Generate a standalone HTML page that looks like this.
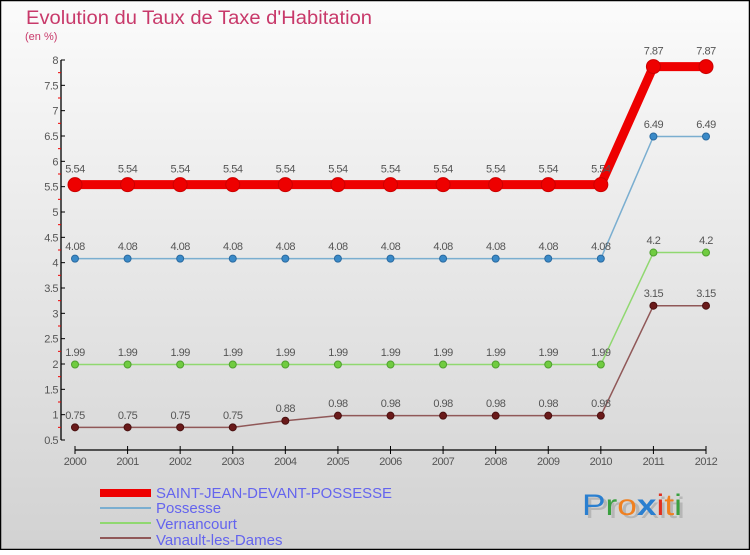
<!DOCTYPE html>
<html><head><meta charset="utf-8"><style>
html,body{margin:0;padding:0;}
body{width:750px;height:550px;overflow:hidden;font-family:"Liberation Sans",sans-serif;}
</style></head><body>
<svg id="chart" width="750" height="550" xmlns="http://www.w3.org/2000/svg">
<defs>
<linearGradient id="bg" x1="0" y1="0" x2="0" y2="1">
<stop offset="0" stop-color="#fbfbfb"/><stop offset="1" stop-color="#d2d2d2"/>
</linearGradient>
</defs>
<rect x="0.5" y="0.5" width="749" height="549" fill="url(#bg)" stroke="#000" stroke-width="1.5"/>
<text x="26" y="24" font-size="19" fill="#c8396a" textLength="346" lengthAdjust="spacingAndGlyphs">Evolution du Taux de Taxe d'Habitation</text>
<text x="25" y="40" font-size="11" fill="#c8396a">(en %)</text>
<g id="axes"></g>
<g id="series"></g>
<g font-size="15" fill="#6464ee">
<rect x="100" y="489" width="51" height="8" fill="#ee0000"/>
<text x="156" y="498" textLength="236" lengthAdjust="spacingAndGlyphs">SAINT-JEAN-DEVANT-POSSESSE</text>
<rect x="100" y="507" width="51" height="2" fill="#7aaed0"/>
<text x="156" y="513">Possesse</text>
<rect x="100" y="522" width="51" height="2" fill="#90d870"/>
<text x="156" y="529">Vernancourt</text>
<rect x="100" y="537" width="51" height="2" fill="#905858"/>
<text x="156" y="545">Vanault-les-Dames</text>
</g>
<g font-size="30">
<text x="585" y="518" fill="#999" opacity="0.5" textLength="100" lengthAdjust="spacingAndGlyphs">Proxiti</text>
<text x="582" y="515" textLength="100" lengthAdjust="spacingAndGlyphs"><tspan fill="#2a7fd0">P</tspan><tspan fill="#3aa040">r</tspan><tspan fill="#f08020">o</tspan><tspan fill="#2a7fd0" font-weight="bold">x</tspan><tspan fill="#e03020">i</tspan><tspan fill="#f08020">t</tspan><tspan fill="#3aa040">i</tspan></text>
</g>
</svg>
<script>
const years = ["2000","2001","2002","2003","2004","2005","2006","2007","2008","2009","2010","2011","2012"];
const saintJean = [5.54,5.54,5.54,5.54,5.54,5.54,5.54,5.54,5.54,5.54,5.54,7.87,7.87];
const possesse = [4.08,4.08,4.08,4.08,4.08,4.08,4.08,4.08,4.08,4.08,4.08,6.49,6.49];
const vernancourt = [1.99,1.99,1.99,1.99,1.99,1.99,1.99,1.99,1.99,1.99,1.99,4.2,4.2];
const vanault = [0.75,0.75,0.75,0.75,0.88,0.98,0.98,0.98,0.98,0.98,0.98,3.15,3.15];
const yTicks = [0.5,1,1.5,2,2.5,3,3.5,4,4.5,5,5.5,6,6.5,7,7.5,8];

const NS="http://www.w3.org/2000/svg";
const yMin=0.5,yMax=8,yTop=60,yBot=440;
const xL=75,xR=706;
function yS(v){return yBot-(v-yMin)/(yMax-yMin)*(yBot-yTop);}
function xS(i){return xL+i*(xR-xL)/(years.length-1);}
function mk(tag,attrs,parent){const e=document.createElementNS(NS,tag);for(const k in attrs)e.setAttribute(k,attrs[k]);parent.appendChild(e);return e;}
function fmt(v){return String(v);}

const axes=document.getElementById('axes');
const yAxis=mk('line',{x1:61,y1:yTop,x2:61,y2:yBot,stroke:'#000','stroke-width':1.3},axes);


yTicks.forEach(t=>{
  const y=yS(t);
  const tk=mk('line',{x1:61,y1:y,x2:65,y2:y,stroke:'#000','stroke-width':1},axes);
  
  
  const lb=mk('text',{x:58,y:y+4,'font-size':11,fill:'#555','text-anchor':'end','letter-spacing':'-0.5'},axes);
  lb.textContent=fmt(t);
  
  
  if(t<yMax){
    const m=mk('line',{x1:58,y1:yS(t+0.25),x2:61,y2:yS(t+0.25),stroke:'#e00','stroke-width':1},axes);
    
    
  }
});
const xAxis=mk('line',{x1:xL,y1:450,x2:xR,y2:450,stroke:'#000','stroke-width':1.3},axes);


years.forEach((yr,i)=>{
  const x=xS(i);
  const tk=mk('line',{x1:x,y1:446,x2:x,y2:454,stroke:'#000','stroke-width':1},axes);
  
  
  const lb=mk('text',{x:x,y:465,'font-size':11,fill:'#555','text-anchor':'middle','letter-spacing':'-0.5'},axes);
  lb.textContent=yr;
  
  
});

const series=document.getElementById('series');
function drawSeries(vals,name,color,lw,r,mfill,mstroke){
  const g=mk('g',{},series);
  
  
  const pts=vals.map((v,i)=>xS(i)+','+yS(v)).join(' ');
  const pl=mk('polyline',{points:pts,fill:'none',stroke:color,'stroke-width':lw,'stroke-linejoin':'round'},g);
  
  
  vals.forEach((v,i)=>{
    const c=mk('circle',{cx:xS(i),cy:yS(v),r:r,fill:mfill,stroke:mstroke,'stroke-width':1},g);
    
    
    const t=mk('text',{x:xS(i),y:yS(v)-r-5,'font-size':11,fill:'#555','text-anchor':'middle','letter-spacing':'-0.5'},g);
    t.textContent=fmt(v);
    
    
  });
}
drawSeries(vanault,'vanault','#905858',1.5,3.5,'#6a1a1a','#4a1010');
drawSeries(vernancourt,'vernancourt','#90d870',1.5,3.5,'#70cc40','#50a030');
drawSeries(possesse,'possesse','#7aaed0',1.5,3.5,'#3a8ac8','#2a6aa0');
drawSeries(saintJean,'saint-jean','#ee0000',9,7,'#ee0000','#cc0000');
</script>
</body></html>
